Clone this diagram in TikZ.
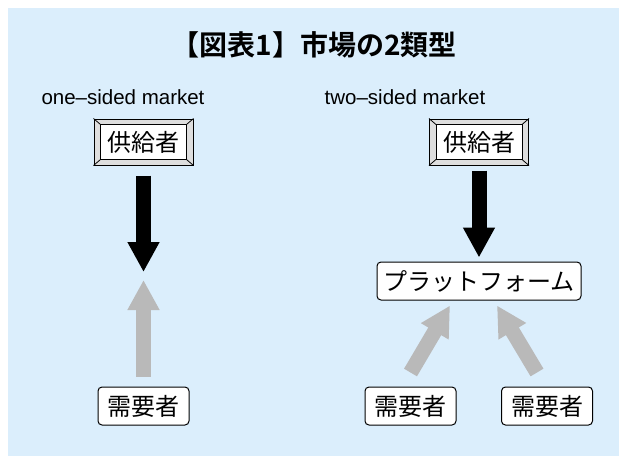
\documentclass[tikz,border=0pt]{standalone}
\usepackage{fontspec}
\setmainfont{Liberation Sans}
\newfontfamily\jpfont{Noto Sans CJK JP}
\newfontfamily\jpbold{Noto Sans CJK JP Bold}
\usetikzlibrary{arrows.meta,calc}
\definecolor{bgblue}{RGB}{219,238,252}
\definecolor{arrowgray}{RGB}{185,185,185}
\definecolor{bevelgray}{RGB}{222,222,222}
\tikzset{
  jpbox/.style={draw=black,line width=1pt,fill=white,rounded corners=4pt,
    inner sep=0pt,font=\jpfont\fontsize{24pt}{28pt}\selectfont,minimum height=38pt},
  bevelouter/.style={draw=black,line width=1pt,fill=bevelgray,inner sep=0pt,
    minimum width=99pt,minimum height=46pt},
  beveltext/.style={inner sep=0pt,font=\jpfont\fontsize{24pt}{28pt}\selectfont},
  blackarrow/.style={line width=15pt,draw=black,-{Triangle[length=30pt,width=30pt]}},
  grayarrow/.style={line width=15pt,draw=arrowgray,-{Triangle[length=30pt,width=30pt]}},
  heading/.style={font=\fontsize{20.5pt}{24pt}\selectfont,inner sep=0pt},
}
\begin{document}
\begin{tikzpicture}[x=1pt,y=-1pt]
\useasboundingbox (0,0) rectangle (619,456);
\fill[white] (0,0) rectangle (619,456);
\fill[bgblue] (8,8) rectangle (619,456);
\node[inner sep=0pt,font=\jpbold\fontsize{28pt}{32pt}\selectfont] (title) at (314,45) {【図表1】市場の2類型};
\node[heading] (h1) at (123,97) {one–sided market};
\node[heading] (h2) at (405,97) {two–sided market};
% suppliers
\foreach \n/\x in {s1/143.5,s2/479} {
  \node[bevelouter] (\n) at (\x,142) {};
  \draw[line width=0.8pt,fill=white] ($(\n.south west)+(7pt,6pt)$) coordinate (\n isw)
     rectangle ($(\n.north east)+(-7pt,-6pt)$) coordinate (\n ine);
  \draw[line width=0.8pt] (\n.south west) -- (\n isw);
  \draw[line width=0.8pt] (\n.north east) -- (\n ine);
  \draw[line width=0.8pt] (\n.north west) -- ($(\n.north west)+(7pt,-6pt)$);
  \draw[line width=0.8pt] (\n.south east) -- ($(\n.south east)+(-7pt,6pt)$);
}
\node[beveltext] (s1t) at (s1) {供給者};
\node[beveltext] (s2t) at (s2) {供給者};
% platform and demand
\node[jpbox,minimum width=204pt] (pf) at (479,281) {プラットフォーム};
\node[jpbox,minimum width=91pt] (d1) at (143.5,406) {需要者};
\node[jpbox,minimum width=91pt] (d2) at (410.5,406) {需要者};
\node[jpbox,minimum width=91pt] (d3) at (547,406) {需要者};
% arrows
\coordinate (m1) at (143.5,272);
\coordinate (m2) at (143.5,280);
\draw[blackarrow] ($(s1.south)+(0,-10pt)$) -- (m1);
\draw[grayarrow] ($(d1.north)+(0,10pt)$) -- (m2);
\draw[blackarrow] ($(s2.south)+(0,-5pt)$) -- ($(pf.north)+(0,4pt)$);
\draw[grayarrow] ($(d2.north)+(0,14pt)$) -- ($(pf.south)+(-29pt,-5pt)$);
\draw[grayarrow] ($(d3.north)+(-10pt,14pt)$) -- ($(pf.south)+(18pt,-5pt)$);
\end{tikzpicture}
\end{document}
